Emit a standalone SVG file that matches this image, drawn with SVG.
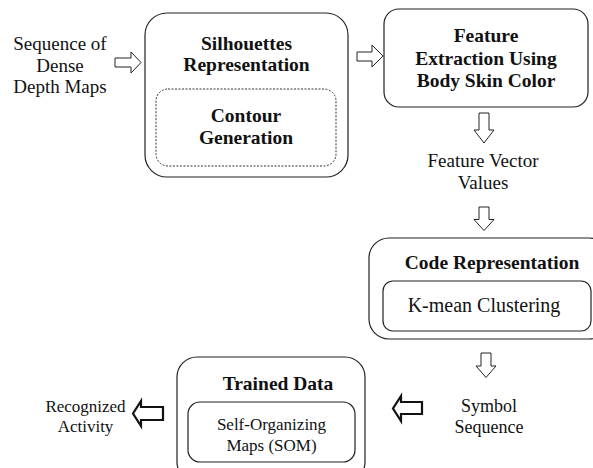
<svg xmlns="http://www.w3.org/2000/svg" width="593" height="468" viewBox="0 0 593 468" font-family="'Liberation Serif', Tinos, 'DejaVu Serif', serif">
<style>
text{font-family:'Liberation Serif', Tinos, 'DejaVu Serif', serif;fill:#111;text-anchor:middle}
.b{font-weight:bold;font-size:19.5px}
.r{font-size:19px}
.s{font-size:17px}
.box{fill:#fff;stroke:#222;stroke-width:1.2}
.dot{fill:none;stroke:#333;stroke-width:1;stroke-dasharray:2,1.5}
.arr{fill:#fff;stroke:#222;stroke-width:1;stroke-linejoin:miter}
.arrb{fill:#fff;stroke:#111;stroke-width:2.2;stroke-linejoin:miter}
</style>
<rect width="593" height="468" fill="#fff"/>
<g id="input">
<text class="r" x="60" y="50">Sequence of</text>
<text class="r" x="60" y="72">Dense</text>
<text class="r" x="60" y="93">Depth Maps</text>
</g>
<g id="silhouettes">
<rect class="box" x="145" y="13" width="203" height="164" rx="22"/>
<text class="b" x="246.5" y="50">Silhouettes</text>
<text class="b" x="246.5" y="71">Representation</text>
<rect class="dot" x="156" y="89" width="180" height="77" rx="12"/>
<text class="b" x="246" y="122">Contour</text>
<text class="b" x="246" y="144">Generation</text>
</g>
<g id="feature-extraction">
<rect class="box" x="384" y="9" width="204" height="98" rx="15"/>
<text class="b" x="486" y="42">Feature</text>
<text class="b" x="486" y="64.5">Extraction Using</text>
<text class="b" x="486" y="87">Body Skin Color</text>
</g>
<g id="feature-vector">
<text class="r" x="483" y="167">Feature Vector</text>
<text class="r" x="483" y="189">Values</text>
</g>
<g id="code-representation">
<rect class="box" x="369" y="238" width="240" height="101" rx="20"/>
<text class="b" x="492" y="269">Code Representation</text>
<rect class="box" x="383" y="281" width="208" height="50" rx="10"/>
<text x="484" y="312" style="font-size:20px">K-mean Clustering</text>
</g>
<g id="symbol-sequence">
<text x="489" y="412" style="font-size:18px">Symbol</text>
<text x="489" y="433" style="font-size:18px">Sequence</text>
</g>
<g id="trained-data">
<rect class="box" x="177" y="357" width="188" height="125" rx="20"/>
<text class="b" x="278" y="390">Trained Data</text>
<rect class="box" x="188" y="402" width="167" height="60" rx="12"/>
<text class="s" x="271.5" y="430">Self-Organizing</text>
<text class="s" x="271.5" y="451">Maps (SOM)</text>
</g>
<g id="recognized-activity">
<text class="s" x="85.5" y="412">Recognized</text>
<text class="s" x="85.5" y="432">Activity</text>
</g>
<g id="connectors">
<polygon class="arr" points="115,58 131,58 131,52 141,62.5 131,73 131,67 115,67"/>
<polygon class="arr" points="357,52 372,52 372,45 383,56 372,67 372,61 357,61"/>
<polygon class="arr" points="479,113 489,113 489,130 494,130 484,143 474,130 479,130"/>
<polygon class="arr" points="479,207 489,207 489,219.5 494,219.5 484,230.5 474,219.5 479,219.5"/>
<polygon class="arr" points="481,353 491,353 491,366 496,366 486,377.5 476,366 481,366"/>
<polygon class="arrb" points="422,402 401,402 401,396 393,408.5 401,421 401,414 422,414"/>
<polygon class="arrb" points="163,407 141,407 141,401 133,413.5 141,426 141,420 163,420"/>
</g>
</svg>
